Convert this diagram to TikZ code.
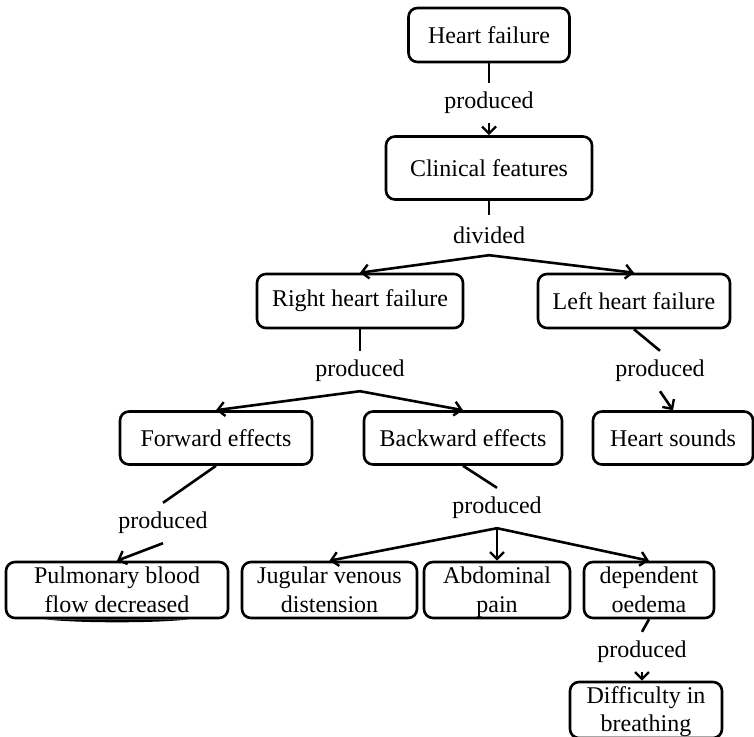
\documentclass[tikz,border=0pt]{standalone}
\usepackage{fontspec}
\setmainfont{Liberation Serif}
\usetikzlibrary{arrows.meta,calc}
\newcommand\bxs{\rule[-6pt]{0pt}{27pt}}
\begin{document}
\begin{tikzpicture}[x=1pt,y=-1pt,
  box/.style={draw, line width=2.6pt, rounded corners=9pt, align=center,
    inner sep=0pt, font=\fontsize{24}{29}\selectfont},
  lbl/.style={inner sep=0pt, minimum height=40pt, font=\fontsize{24}{28}\selectfont},
  conn/.style={line width=2.6pt},
  arr/.style={line width=2.6pt, -{Straight Barb[length=7pt,width=14pt,line width=2.4pt]}}]
\useasboundingbox (0,0) rectangle (754,736);
\clip (0,0) rectangle (754,736);
% boxes
\node[box, minimum width=161pt, minimum height=54pt] (hf) at (489,35) {Heart failure};
\node[box, minimum width=206pt, minimum height=63pt] (cf) at (489,168) {Clinical features};
\node[box, minimum width=206pt, minimum height=54pt] (rhf) at (360,301) {Right heart failure};
\node[box, minimum width=192pt, minimum height=54pt] (lhf) at (634,301) {Left heart failure};
\node[box, minimum width=192pt, minimum height=53pt] (fe) at (216,438) {Forward effects};
\node[box, minimum width=198pt, minimum height=53pt] (be) at (463,438) {Backward effects};
\node[box, minimum width=160pt, minimum height=53pt] (hs) at (673,438) {Heart sounds};
\node[box, minimum width=222pt, minimum height=54pt] (pb) at (117,590) {\bxs Pulmonary blood\\\bxs flow decreased};
\node[box, minimum width=175pt, minimum height=54pt] (jv) at (329.5,590) {\bxs Jugular venous\\\bxs distension};
\node[box, minimum width=146pt, minimum height=54pt] (ap) at (497,590) {\bxs Abdominal\\\bxs pain};
\node[box, minimum width=130pt, minimum height=54pt] (de) at (649,590) {\bxs dependent\\\bxs oedema};
\node[box, minimum width=152pt, minimum height=56pt, font=\fontsize{24}{26}\selectfont] (db) at (646,710) {\bxs Difficulty in\\\bxs breathing};
\fill ($(pb.south west)+(40,0)$) .. controls ($(pb.south)+(-40,4)$) and ($(pb.south)+(40,4)$) .. ($(pb.south east)+(-40,0)$) -- cycle;
% labels
\node[lbl] (l1) at (489,103) {produced};
\node[lbl] (l2) at (489,235) {divided};
\node[lbl] (l3) at (360,371) {produced};
\node[lbl] (l4) at (660,371) {produced};
\node[lbl] (l5) at (163,523) {produced};
\node[lbl] (l6) at (497,508) {produced};
\node[lbl] (l7) at (642,652) {produced};
% connectors
\draw[conn] (hf.south) -- (l1.north);
\draw[arr] (l1.south) -- (cf.north);
\draw[conn] (cf.south) -- (l2.north);
\draw[arr] (l2.south) -- (rhf.north);
\draw[arr] (l2.south) -- (lhf.north);
\draw[conn] (rhf.south) -- (l3.north);
\draw[arr] (l3.south) -- (fe.north);
\draw[arr] (l3.south) -- (be.north);
\draw[conn] (lhf.south) -- (l4.north);
\draw[arr] (l4.south) -- (hs.north);
\draw[conn] (fe.south) -- (l5.north);
\draw[arr] (l5.south) -- (pb.north);
\draw[conn] (be.south) -- (l6.north);
\draw[arr] (l6.south) -- (jv.north);
\draw[arr] (l6.south) -- (ap.north);
\draw[arr] (l6.south) -- (de.north);
\draw[conn] (de.south) -- (l7.north);
\draw[arr] (l7.south) -- (l7.south |- db.north);
\end{tikzpicture}
\end{document}
